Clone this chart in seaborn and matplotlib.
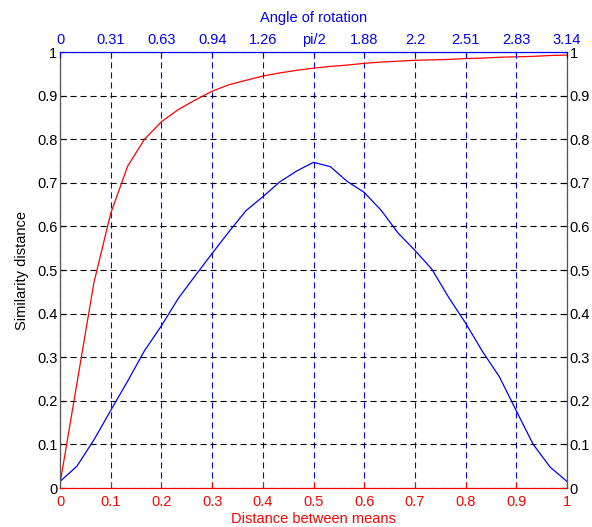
import numpy as np
import pandas as pd
import matplotlib
matplotlib.use("Agg")
import matplotlib.pyplot as plt
import seaborn as sns

# data (31 samples over distance 0..1)
distance = [i / 30 for i in range(31)]
red_similarity = [0.01, 0.24, 0.47, 0.63, 0.738, 0.80, 0.84, 0.868, 0.89, 0.91,
                  0.925, 0.935, 0.945, 0.952, 0.958, 0.963, 0.967, 0.970, 0.974,
                  0.977, 0.979, 0.981, 0.982, 0.983, 0.985, 0.986, 0.988, 0.989,
                  0.990, 0.992, 0.993]
blue_similarity = [0.015, 0.05, 0.11, 0.178, 0.245, 0.315, 0.372, 0.435, 0.487,
                   0.538, 0.588, 0.636, 0.668, 0.702, 0.727, 0.747, 0.737, 0.703,
                   0.678, 0.637, 0.585, 0.545, 0.502, 0.437, 0.378, 0.313, 0.255,
                   0.177, 0.10, 0.048, 0.015]
bottom_ticks = [i / 10 for i in range(11)]
bottom_labels = ["0", "0.1", "0.2", "0.3", "0.4", "0.5", "0.6", "0.7", "0.8", "0.9", "1"]
y_ticks = [i / 10 for i in range(11)]
y_labels = ["0", "0.1", "0.2", "0.3", "0.4", "0.5", "0.6", "0.7", "0.8", "0.9", "1"]
top_labels = ["0", "0.31", "0.63", "0.94", "1.26", "pi/2", "1.88", "2.2", "2.51", "2.83", "3.14"]

sns.set_style("white")
plt.rcParams['font.family'] = ['Liberation Sans', 'DejaVu Sans']
FS = 10.5
plt.rcParams['font.size'] = FS

fig = plt.figure(figsize=(5.92, 5.27), dpi=100)
ax = fig.add_axes([0.1014, 0.074, 0.8564, 0.8273])

df = pd.DataFrame({"d": distance, "red": red_similarity, "blue": blue_similarity})
sns.lineplot(data=df, x="d", y="red", ax=ax, color="#ff0000", lw=0.9)
sns.lineplot(data=df, x="d", y="blue", ax=ax, color="#0000ff", lw=0.9)

ax.set_xlim(0, 1)
ax.set_ylim(0, 1)
ax.set_xticks(bottom_ticks)
ax.set_xticklabels(bottom_labels)
ax.set_yticks(y_ticks)
ax.set_yticklabels(y_labels)
ax.set_axisbelow(True)
dash = (0, (5.5, 3.5))
ax.grid(axis='x', color='#0000ff', linestyle=dash, lw=0.8)
ax.grid(axis='y', color='black', linestyle=dash, lw=0.8)
ax.tick_params(axis='x', colors='#ff0000', direction='in', length=4, pad=5, labelsize=FS)
ax.tick_params(axis='y', colors='black', direction='in', length=4, pad=2,
               left=True, right=True, labelleft=True, labelright=True, labelsize=FS)
ax.set_xlabel("Distance between means", color='#ff0000', fontsize=FS, labelpad=2)
ax.set_ylabel("Similarity distance", color='black', fontsize=FS, labelpad=6)
for s in ['left', 'right']:
    ax.spines[s].set_color('#555555')
    ax.spines[s].set_linewidth(0.9)
ax.spines['bottom'].set_color('#ff0000')
ax.spines['top'].set_color('#0000ff')

ax2 = ax.twiny()
ax2.set_xlim(0, np.pi)
ax2.set_xticks([np.pi * i / 10 for i in range(11)])
ax2.set_xticklabels(top_labels)
ax2.tick_params(axis='x', colors='#0000ff', direction='in', length=4, pad=3.5, labelsize=FS)
ax2.set_xlabel("Angle of rotation", color='#0000ff', fontsize=FS, labelpad=8)
ax2.spines['top'].set_color('#0000ff')
ax2.spines['bottom'].set_color('#ff0000')
ax2.spines['left'].set_visible(False)
ax2.spines['right'].set_visible(False)
ax2.grid(False)

fig.savefig("out.png", dpi=100)
